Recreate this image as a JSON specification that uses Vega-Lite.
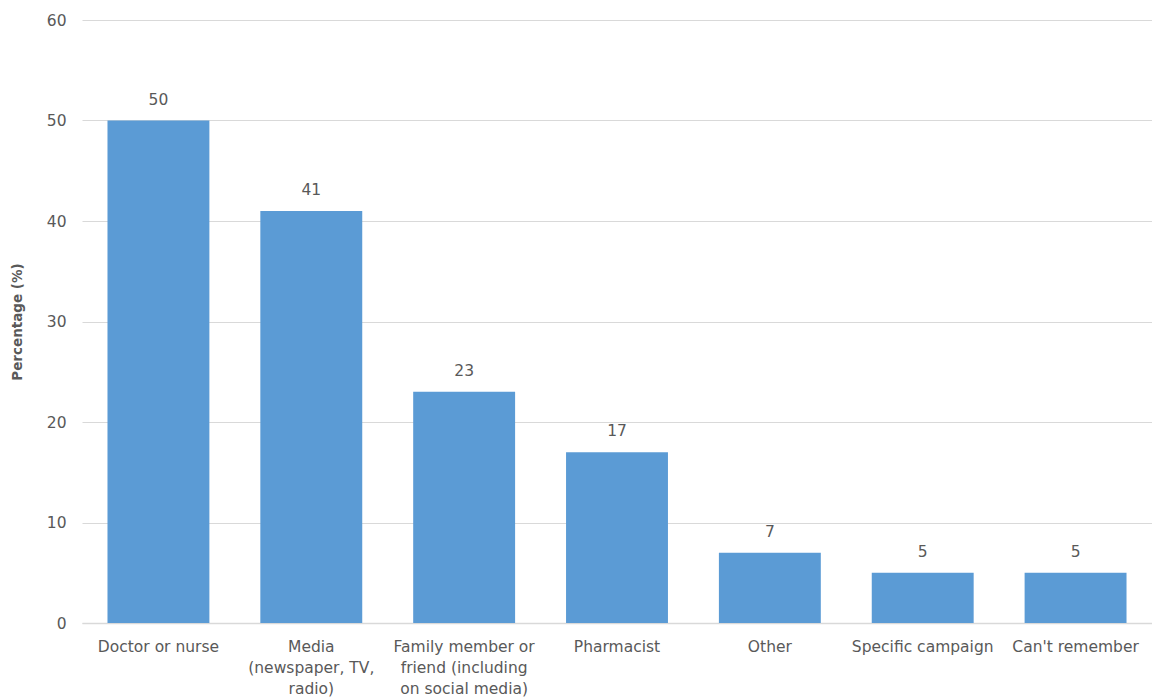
{
  "$schema": "https://vega.github.io/schema/vega-lite/v6.json",
  "width": 1070,
  "height": 603,
  "autosize": {"type": "none"},
  "padding": {"left": 82, "top": 20, "right": 0, "bottom": 77},
  "background": "white",
  "config": {
    "view": {"stroke": null},
    "font": "DejaVu Sans"
  },
  "data": {
    "values": [
      {"source": "Doctor or nurse", "pct": 50},
      {"source": "Media|(newspaper, TV,|radio)", "pct": 41},
      {"source": "Family member or|friend (including|on social media)", "pct": 23},
      {"source": "Pharmacist", "pct": 17},
      {"source": "Other", "pct": 7},
      {"source": "Specific campaign", "pct": 5},
      {"source": "Can't remember", "pct": 5}
    ]
  },
  "encoding": {
    "x": {
      "field": "source",
      "type": "nominal",
      "sort": null,
      "scale": {"paddingInner": 0.3333, "paddingOuter": 0.1667},
      "axis": {
        "title": null,
        "labelAngle": 0,
        "labelExpr": "split(datum.label, '|')",
        "labelFont": "DejaVu Sans",
        "labelFontSize": 15.5,
        "labelColor": "#595959",
        "labelLineHeight": 21,
        "labelPadding": 16,
        "labelBaseline": "top",
        "labelOverlap": false,
        "labelBound": false,
        "ticks": false,
        "domainColor": "#D9D9D9",
        "domainWidth": 1.5,
        "grid": false
      }
    },
    "y": {
      "field": "pct",
      "type": "quantitative",
      "scale": {"domain": [0, 60]},
      "axis": {
        "title": "Percentage (%)",
        "titleFont": "DejaVu Sans",
        "titleFontSize": 13.5,
        "titleFontWeight": "bold",
        "titleColor": "#595959",
        "titlePadding": 22,
        "values": [0, 10, 20, 30, 40, 50, 60],
        "labelFont": "DejaVu Sans",
        "labelFontSize": 15.5,
        "labelColor": "#595959",
        "labelPadding": 16,
        "ticks": false,
        "domain": false,
        "gridColor": "#D9D9D9",
        "gridWidth": 1.2
      }
    }
  },
  "layer": [
    {"mark": {"type": "bar", "color": "#5B9BD5"}},
    {
      "mark": {"type": "text", "baseline": "bottom", "dy": -13, "fontSize": 15.5, "color": "#595959", "font": "DejaVu Sans"},
      "encoding": {"text": {"field": "pct", "type": "quantitative"}}
    }
  ]
}
